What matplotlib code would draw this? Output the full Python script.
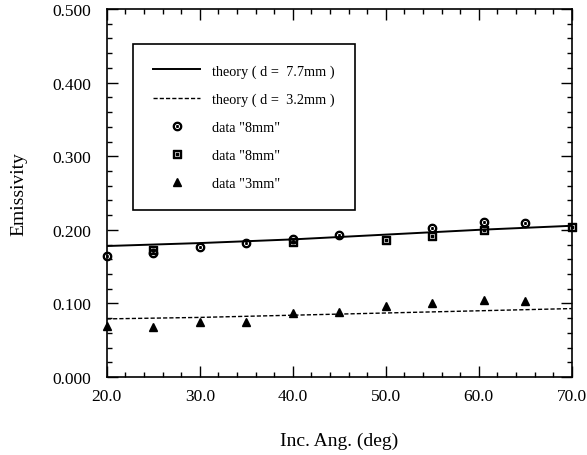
import matplotlib
matplotlib.use("Agg")
import matplotlib.pyplot as plt
from matplotlib.ticker import MultipleLocator, FormatStrFormatter

plt.rcParams['font.family'] = ['Liberation Serif', 'DejaVu Serif']
plt.rcParams['mathtext.fontset'] = 'dejavusans'

# theory curves
theory_x = [20, 30, 40, 50, 60, 70]
theory_77 = [0.178, 0.182, 0.187, 0.1935, 0.200, 0.2055]
theory_32 = [0.079, 0.081, 0.084, 0.087, 0.090, 0.093]

# measured data
circ_x = [20, 25, 30, 35, 40, 45, 55, 60.6, 65]
circ_y = [0.165, 0.168, 0.176, 0.1825, 0.1875, 0.193, 0.2025, 0.210, 0.209]
sq_x = [25, 40, 50, 55, 60.6, 70]
sq_y = [0.173, 0.184, 0.186, 0.191, 0.1995, 0.204]
tri_x = [20, 25, 30, 35, 40, 45, 50, 55, 60.6, 65]
tri_y = [0.069, 0.0675, 0.075, 0.075, 0.0865, 0.088, 0.096, 0.1005, 0.105, 0.1037]

fig = plt.figure(figsize=(5.87, 4.56), dpi=100)
ax = fig.add_axes([0.182, 0.171, 0.792, 0.807])

ax.plot(theory_x, theory_77, color='black', lw=1.4, label='theory ( d =  7.7mm )')
ax.plot(theory_x, theory_32, color='black', lw=1.0, dashes=(3, 1.5),
        label='theory ( d =  3.2mm )')
ax.plot(circ_x, circ_y, ls='none', marker=r'$\odot$', ms=6, color='black',
        label='data "8mm"', clip_on=False)
ax.plot(sq_x, sq_y, ls='none', marker=r'$\boxdot$', ms=5.5, color='black',
        label='data "8mm"', clip_on=False)
ax.plot(tri_x, tri_y, ls='none', marker='^', ms=5.5, color='black',
        label='data "3mm"', clip_on=False)

ax.set_xlim(20, 70)
ax.set_ylim(0, 0.5)
ax.xaxis.set_major_locator(MultipleLocator(10))
ax.xaxis.set_minor_locator(MultipleLocator(2))
ax.yaxis.set_major_locator(MultipleLocator(0.1))
ax.yaxis.set_minor_locator(MultipleLocator(0.02))
ax.xaxis.set_major_formatter(FormatStrFormatter('%.1f'))
ax.yaxis.set_major_formatter(FormatStrFormatter('%.3f'))
ax.tick_params(which='both', direction='in', top=True, right=True, labelsize=12.5)
ax.tick_params(which='major', length=8, width=1)
ax.tick_params(which='minor', length=3.5, width=1)
ax.tick_params(axis='x', pad=8)
ax.tick_params(axis='y', pad=11)
for s in ax.spines.values():
    s.set_linewidth(1.2)

ax.set_xlabel('Inc. Ang. (deg)', fontsize=14, labelpad=20)
ax.set_ylabel('Emissivity', fontsize=14, labelpad=18)

leg = ax.legend(loc='upper left', bbox_to_anchor=(0.056, 0.905), fontsize=10.3,
                frameon=True, fancybox=False, edgecolor='black', framealpha=1,
                handlelength=3.3, handletextpad=0.85, borderpad=1.4,
                labelspacing=1.05, borderaxespad=0)
leg.get_frame().set_linewidth(1.2)

fig.savefig('out.png', dpi=100)
